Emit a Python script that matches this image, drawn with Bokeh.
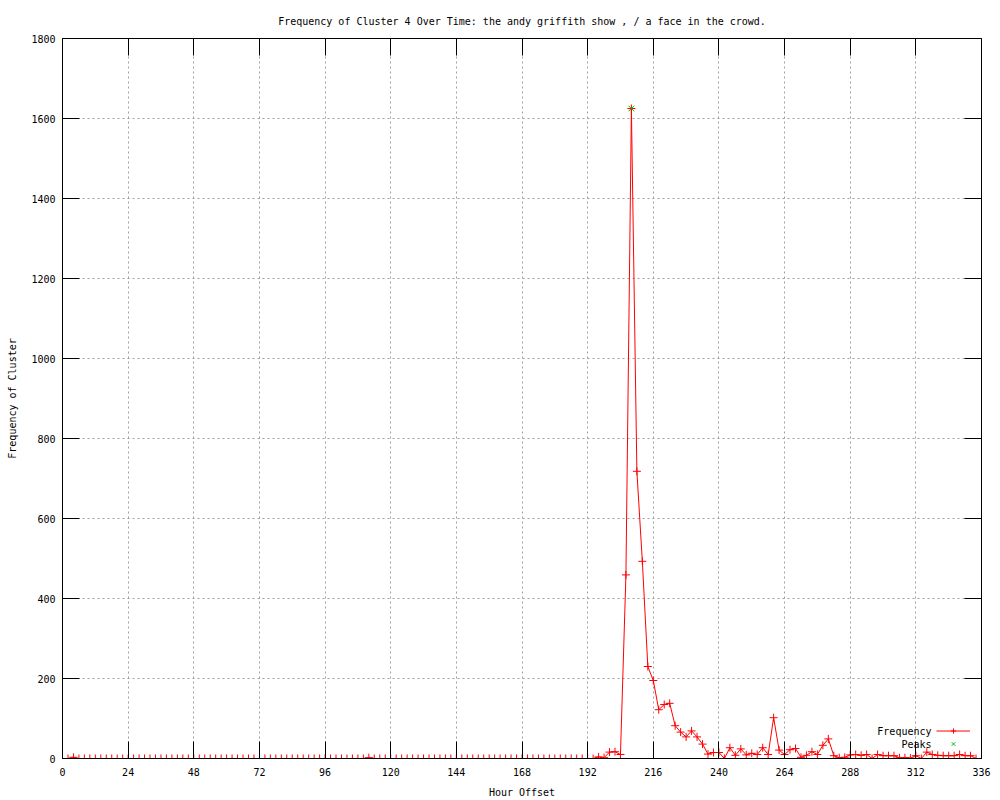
from bokeh.plotting import figure
from bokeh.models import (Range1d, FixedTicker, LinearAxis, Legend, LegendItem,
                          ColumnDataSource, Label)
from bokeh.embed import file_html
from bokeh.resources import INLINE

# ---- data -------------------------------------------------------------
hours = list(range(0, 336, 2))
frequency = [
    0, 0, 3, 0, 0, 0, 0, 0, 0, 0, 0, 0,            # 0-22
    0, 0, 0, 0, 0, 0, 0, 0, 0, 0, 0, 0,            # 24-46
    0, 0, 0, 0, 0, 0, 0, 0, 0, 0, 0, 0,            # 48-70
    0, 0, 0, 0, 0, 0, 0, 0, 0, 0, 0, 0,            # 72-94
    0, 0, 0, 0, 0, 0, 0, 0, 2, 0, 0, 0,            # 96-118
    0, 0, 0, 0, 0, 0, 0, 0, 0, 0, 0, 0,            # 120-142
    0, 0, 0, 0, 0, 0, 0, 0, 0, 0, 0, 0,            # 144-166
    0, 0, 0, 0, 0, 0, 0, 0, 0, 0, 0, 0,            # 168-190
    0, 0, 4, 2, 16, 17, 10, 459, 1625, 718, 493, 230,   # 192-214
    195, 122, 135, 138, 82, 66, 54, 69, 54, 36, 11, 15,  # 216-238
    15, 0, 27, 8, 24, 9, 13, 10, 27, 10, 102, 21,        # 240-262
    10, 22, 25, 3, 8, 17, 10, 33, 49, 7, 2, 3,           # 264-286
    9, 10, 8, 10, 0, 10, 7, 7, 7, 2, 2, 1,               # 288-310
    7, 0, 16, 10, 8, 7, 7, 7, 10, 7, 7, 0,               # 312-334
]
peak_hours = [208]
peak_values = [1625]
x_ticks = [0, 24, 48, 72, 96, 120, 144, 168, 192, 216, 240, 264, 288, 312, 336]
y_ticks = [0, 200, 400, 600, 800, 1000, 1200, 1400, 1600, 1800]
series_names = ["Frequency", "Peaks"]

FONT = "DejaVu Sans Mono"
FS = "10px"
W, H = 1000, 800

src = ColumnDataSource(dict(h=hours, f=frequency))
peaks = ColumnDataSource(dict(h=peak_hours, f=peak_values))

p = figure(width=W, height=H, output_backend="svg", toolbar_location=None,
           x_range=Range1d(0, 336), y_range=Range1d(0, 1800),
           min_border_left=62, min_border_right=19, min_border_top=38, min_border_bottom=40,
           title="Frequency of Cluster 4 Over Time: the andy griffith show , / a face in the crowd.")
p.background_fill_color = "white"
p.border_fill_color = "white"
p.outline_line_color = "black"
p.outline_line_width = 1

p.title.align = "center"
p.title.text_font = FONT
p.title.text_font_size = FS
p.title.text_font_style = "normal"
p.title.text_color = "black"
p.title.standoff = 23

for ax in (p.xaxis[0], p.yaxis[0]):
    ax.major_tick_in = 17
    ax.major_tick_out = 0
    ax.minor_tick_in = 0
    ax.minor_tick_out = 0
    ax.major_tick_line_color = "black"
    ax.axis_line_color = "black"
    ax.major_label_text_font = FONT
    ax.major_label_text_font_size = FS
    ax.major_label_text_color = "black"
    ax.axis_label_text_font = FONT
    ax.axis_label_text_font_size = FS
    ax.axis_label_text_font_style = "normal"
    ax.axis_label_text_color = "black"

p.xaxis.ticker = FixedTicker(ticks=x_ticks)
p.yaxis.ticker = FixedTicker(ticks=y_ticks)
p.xaxis.axis_label = "Hour Offset"
p.yaxis.axis_label = "Frequency of Cluster"
p.xaxis.major_label_standoff = 9
p.xaxis.axis_label_standoff = 8
p.yaxis.major_label_standoff = 7
p.yaxis.axis_label_standoff = 10

# mirror ticks (no labels)
top = LinearAxis(ticker=FixedTicker(ticks=x_ticks), major_tick_in=17, major_tick_out=0,
                 minor_tick_in=0, minor_tick_out=0, axis_line_color=None,
                 major_label_overrides={t: "" for t in x_ticks}, major_label_standoff=0)
right = LinearAxis(ticker=FixedTicker(ticks=y_ticks), major_tick_in=17, major_tick_out=0,
                   minor_tick_in=0, minor_tick_out=0, axis_line_color=None,
                   major_label_overrides={t: "" for t in y_ticks}, major_label_standoff=0)
p.add_layout(top, "above")
p.add_layout(right, "right")

for g in (p.xgrid[0], p.ygrid[0]):
    g.grid_line_color = "#a0a0a0"
    g.grid_line_dash = "2 3"
    g.grid_line_width = 1

line_r = p.line("h", "f", source=src, line_color="#ff0000", line_width=1)
cross_r = p.scatter("h", "f", source=src, marker="cross", size=8, line_color="#ff0000", line_width=1)
peak_r = p.scatter("h", "f", source=peaks, marker="x", size=8, line_color="#00c000", line_width=1)

# legend: samples via Legend (blank labels), texts right-aligned to their left as gnuplot does
legend = Legend(items=[LegendItem(label=" ", renderers=[line_r, cross_r]),
                       LegendItem(label=" ", renderers=[peak_r])],
                location=(874, 8), glyph_width=34, glyph_height=13, label_height=13,
                label_standoff=0, spacing=0, padding=0, margin=0,
                label_text_font=FONT, label_text_font_size=FS, label_text_color="black",
                border_line_color=None, background_fill_alpha=0)
p.add_layout(legend)

# Label screen units are relative to the frame's bottom-left corner
for i, name in enumerate(series_names):
    p.add_layout(Label(x=869, y=27 - 13 * i, x_units="screen", y_units="screen",
                       text=name, text_align="right", text_baseline="middle",
                       text_font=FONT, text_font_size=FS, text_color="black"))

open("out.html", "w").write(file_html(p, INLINE))
